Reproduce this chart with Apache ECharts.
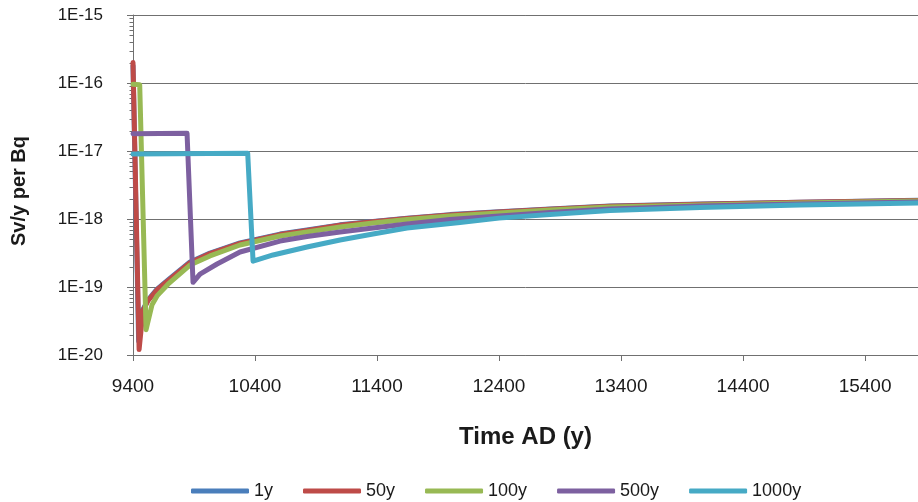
<!DOCTYPE html>
<html>
<head>
<meta charset="utf-8">
<script src="https://cdn.jsdelivr.net/npm/echarts@6/dist/echarts.min.js"></script>
<style>html,body{margin:0;padding:0;background:#fff}#c{width:918px;height:502px}</style>
</head>
<body>
<div id="c"></div>
<script>
// ---- data (time AD, Sv/y per Bq) ----
const seriesNames = ['1y', '50y', '100y', '500y', '1000y'];
const seriesColors = ['#4A7EBB', '#BE4B48', '#98B954', '#7D60A0', '#46AAC5'];

const data1y = [
  [9400, 1.8e-16], [9446, 1.6e-20], [9480, 4.6e-20], [9523, 6.44e-20], [9556, 7.6e-20],
  [9597, 9.3e-20], [9687, 1.27e-19], [9867, 2.33e-19], [10031, 3.16e-19], [10277, 4.44e-19],
  [10605, 6.0e-19], [10826, 6.9e-19], [11097, 8.2e-19], [11367, 9.2e-19], [11646, 1.03e-18],
  [11998, 1.16e-18], [12400, 1.28e-18], [12818, 1.40e-18], [13310, 1.55e-18], [14048, 1.66e-18],
  [14867, 1.77e-18], [15834, 1.88e-18]
];
const data50y = [
  [9400, 2.0e-16], [9450, 1.2e-20], [9482, 4.5e-20], [9523, 6.3e-20], [9556, 7.4e-20],
  [9597, 9.1e-20], [9687, 1.24e-19], [9867, 2.28e-19], [10031, 3.1e-19], [10277, 4.37e-19],
  [10605, 5.9e-19], [10826, 6.8e-19], [11097, 8.1e-19], [11367, 9.1e-19], [11646, 1.02e-18],
  [11998, 1.15e-18], [12400, 1.27e-18], [12818, 1.39e-18], [13310, 1.54e-18], [14048, 1.65e-18],
  [14867, 1.76e-18], [15834, 1.87e-18]
];
const data100y = [
  [9400, 9.6e-17], [9455, 9.4e-17], [9507, 2.35e-20], [9556, 5.5e-20], [9597, 7.4e-20],
  [9687, 1.1e-19], [9867, 2.1e-19], [10031, 2.86e-19], [10277, 4.15e-19], [10605, 5.62e-19],
  [10826, 6.44e-19], [11097, 7.62e-19], [11367, 8.73e-19], [11646, 9.84e-19], [11998, 1.107e-18],
  [12400, 1.225e-18], [12818, 1.355e-18], [13310, 1.50e-18], [14048, 1.61e-18], [14867, 1.72e-18],
  [15834, 1.84e-18]
];
const data500y = [
  [9400, 1.8e-17], [9843, 1.82e-17], [9892, 1.17e-19], [9949, 1.55e-19], [10089, 2.18e-19],
  [10277, 3.27e-19], [10605, 4.74e-19], [10826, 5.53e-19], [11097, 6.44e-19], [11367, 7.38e-19],
  [11646, 8.44e-19], [11998, 9.84e-19], [12400, 1.107e-18], [12818, 1.247e-18], [13310, 1.40e-18],
  [14048, 1.55e-18], [14867, 1.66e-18], [15834, 1.78e-18]
];
const data1000y = [
  [9400, 9.0e-18], [10340, 9.3e-18], [10384, 2.4e-19], [10548, 2.96e-19], [10826, 3.87e-19],
  [11097, 4.91e-19], [11367, 6.01e-19], [11646, 7.38e-19], [12080, 8.9e-19], [12400, 1.03e-18],
  [12818, 1.16e-18], [13310, 1.33e-18], [14048, 1.48e-18], [14867, 1.61e-18], [15834, 1.72e-18]
];
const allData = [data1y, data50y, data100y, data500y, data1000y];

// ---- axis structure ----
const xMin = 9400, xMax = 15834, xStep = 1000;
const yMin = 1e-20, yMax = 1e-15;
const minorMantissas = [2, 3, 4, 5, 6, 7, 8, 9];
const minorDecades = [-20, -19, -18, -17, -16];

const FONT = 'Liberation Sans';
const TXT = '#1a1a1a';
const GRID = '#707070';

const minorTickData = [];
minorDecades.forEach(d => minorMantissas.forEach(m => minorTickData.push([xMin, m * Math.pow(10, d)])));

const lineSeries = seriesNames.map((n, i) => ({
  name: n,
  type: 'line',
  data: allData[i],
  symbol: 'none',
  showSymbol: false,
  color: seriesColors[i],
  lineStyle: { width: 5, color: seriesColors[i], cap: 'round', join: 'round' },
  z: 3 + i
}));

const chart = echarts.init(document.getElementById('c'), null, { renderer: 'canvas' });
chart.setOption({
  animation: false,
  backgroundColor: '#fff',
  grid: { left: 133, right: 0, top: 15, bottom: 147 },
  legend: {
    data: seriesNames,
    left: 186,
    top: 477,
    icon: 'roundRect',
    itemWidth: 58,
    itemHeight: 5,
    itemGap: 30,
    textStyle: { fontFamily: FONT, fontSize: 18, color: TXT }
  },
  xAxis: {
    type: 'value',
    min: xMin,
    max: xMax,
    interval: xStep,
    name: 'Time AD (y)',
    nameLocation: 'middle',
    nameGap: 70,
    nameTextStyle: { fontFamily: FONT, fontSize: 24, fontWeight: 'bold', color: TXT },
    axisLine: { show: true, lineStyle: { color: GRID, width: 1 } },
    axisTick: { show: true, length: 6, lineStyle: { color: GRID } },
    splitLine: { show: false },
    axisLabel: {
      margin: 22,
      fontFamily: FONT, fontSize: 19, color: TXT,
      showMaxLabel: false,
      formatter: v => ((v - xMin) % xStep === 0 ? String(v) : '')
    }
  },
  yAxis: {
    type: 'log',
    logBase: 10,
    min: yMin,
    max: yMax,
    name: 'Sv/y per Bq',
    nameLocation: 'middle',
    nameGap: 104,
    nameTextStyle: { fontFamily: FONT, fontSize: 20, fontWeight: 'bold', color: TXT, padding: [0, 12, 0, 0] },
    axisLine: { show: true, lineStyle: { color: GRID, width: 1 } },
    axisTick: { show: true, length: 6, lineStyle: { color: GRID } },
    splitLine: { show: true, lineStyle: { color: GRID, width: 1 } },
    axisLabel: {
      margin: 30,
      fontFamily: FONT, fontSize: 17, color: TXT,
      formatter: v => '1E' + Math.round(Math.log10(v))
    }
  },
  series: lineSeries.concat([{
    name: 'minorTicks',
    type: 'custom',
    silent: true,
    clip: false,
    data: minorTickData,
    z: 1,
    renderItem: (params, api) => {
      const p = api.coord([api.value(0), api.value(1)]);
      return {
        type: 'line',
        shape: { x1: p[0] - 3.5, y1: Math.round(p[1]) + 0.5, x2: p[0], y2: Math.round(p[1]) + 0.5 },
        style: { stroke: GRID, lineWidth: 1 }
      };
    }
  }])
});
</script>
</body>
</html>
